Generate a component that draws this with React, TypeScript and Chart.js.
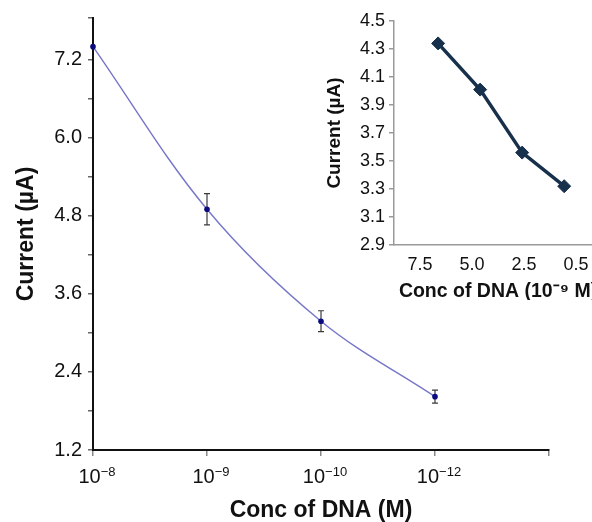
import React, { useEffect, useRef } from 'react';
import { Chart, registerables } from 'chart.js';

Chart.register(...registerables);

// ---- Main chart data ----
const mainXPositions = [0, 1, 2, 3];
const mainXExponents = ['−8', '−9', '−10', '−12'];
const mainCurrent = [7.4, 4.9, 3.18, 2.02];
const mainError = [0, 0.24, 0.16, 0.1];
const mainYMin = 1.2;
const mainYMax = 7.84;
const mainYStep = 0.6;

// ---- Inset chart data ----
const insetLabels = ['7.5', '5.0', '2.5', '0.5'];
const insetIndex = [0, 1, 2, 3];
const insetCurrent = [4.34, 4.01, 3.56, 3.32];
const insetYMin = 2.9;
const insetYMax = 4.5;
const insetYStep = 0.2;

const FONT = '"Liberation Sans", Arial, Helvetica, sans-serif';

const errorBarPlugin = {
  id: 'errorBars',
  beforeDatasetsDraw(chart: any) {
    const { ctx, scales } = chart;
    const x = scales.x;
    const y = scales.y;
    ctx.save();
    ctx.strokeStyle = '#3a3a3a';
    ctx.lineWidth = 1.2;
    mainXPositions.forEach((xv, i) => {
      const e = mainError[i];
      if (!e) return;
      const px = x.getPixelForValue(xv);
      const top = y.getPixelForValue(mainCurrent[i] + e);
      const bot = y.getPixelForValue(mainCurrent[i] - e);
      ctx.beginPath();
      ctx.moveTo(px, top);
      ctx.lineTo(px, bot);
      ctx.moveTo(px - 3, top);
      ctx.lineTo(px + 3, top);
      ctx.moveTo(px - 3, bot);
      ctx.lineTo(px + 3, bot);
      ctx.stroke();
    });
    ctx.restore();
  },
};

const xLabelPlugin = {
  id: 'xPowerLabels',
  afterDraw(chart: any) {
    const { ctx, scales } = chart;
    const x = scales.x;
    const base = `20px ${FONT}`;
    const sup = `13px ${FONT}`;
    ctx.save();
    ctx.fillStyle = '#111';
    ctx.textBaseline = 'alphabetic';
    ctx.textAlign = 'left';
    mainXExponents.forEach((exp, i) => {
      const px = x.getPixelForValue(mainXPositions[i]);
      ctx.font = base;
      const wb = ctx.measureText('10').width;
      ctx.font = sup;
      const ws = ctx.measureText(exp).width;
      const start = px + 4 - (wb + ws) / 2;
      ctx.font = base;
      ctx.fillText('10', start, x.top + 33);
      ctx.font = sup;
      ctx.fillText(exp, start + wb, x.top + 26);
    });
    ctx.restore();
  },
};

export default function App() {
  const mainRef = useRef<HTMLCanvasElement>(null);
  const insetRef = useRef<HTMLCanvasElement>(null);

  useEffect(() => {
    const main = new Chart(mainRef.current as HTMLCanvasElement, {
      type: 'line',
      data: {
        datasets: [
          {
            data: mainXPositions.map((x, i) => ({ x, y: mainCurrent[i] })),
            borderColor: '#7676c8',
            borderWidth: 1.4,
            tension: 0.35,
            pointRadius: 2.8,
            pointBackgroundColor: '#0b0b80',
            pointBorderColor: '#0b0b80',
            pointBorderWidth: 0,
            fill: false,
            clip: false as any,
          },
        ],
      },
      options: {
        responsive: false,
        animation: false,
        devicePixelRatio: 1,
        layout: { padding: { left: 0, top: 14, right: 43, bottom: 0 } },
        plugins: { legend: { display: false }, tooltip: { enabled: false } },
        scales: {
          x: {
            type: 'linear',
            min: 0,
            max: 4,
            afterFit: (s: any) => {
              s.height = 72;
            },
            ticks: { stepSize: 1, display: false },
            grid: {
              drawOnChartArea: false,
              drawTicks: true,
              tickLength: 6,
              color: '#888',
              lineWidth: 1.5,
            },
            border: { color: '#111', width: 2 },
            title: {
              display: true,
              text: 'Conc of DNA (M)',
              color: '#111',
              font: { family: FONT, size: 23, weight: 'bold', lineHeight: 1 },
              padding: { top: 0, bottom: 0 },
            },
          },
          y: {
            min: mainYMin,
            max: mainYMax,
            afterFit: (s: any) => {
              s.width = 93;
            },
            ticks: {
              stepSize: mainYStep,
              color: '#111',
              padding: 6,
              font: { family: FONT, size: 20 },
              callback: (v: any) =>
                Math.round(Number(v) / mainYStep) % 2 === 0 && Number(v) < 7.81
                  ? Number(v).toFixed(1)
                  : '',
            },
            grid: {
              drawOnChartArea: false,
              drawTicks: true,
              tickLength: 5,
              color: '#666',
              lineWidth: 1.5,
            },
            border: { color: '#111', width: 2 },
            title: {
              display: true,
              text: 'Current (µA)',
              color: '#111',
              font: { family: FONT, size: 23, weight: 'bold' },
              padding: { top: 13, bottom: 0 },
            },
          },
        },
      } as any,
      plugins: [errorBarPlugin, xLabelPlugin],
    });

    const inset = new Chart(insetRef.current as HTMLCanvasElement, {
      type: 'line',
      data: {
        labels: insetLabels,
        datasets: [
          {
            data: insetIndex.map((x, i) => ({ x, y: insetCurrent[i] })),
            xAxisID: 'xl',
            yAxisID: 'y',
            borderColor: '#17304c',
            backgroundColor: '#17304c',
            borderWidth: 3.5,
            tension: 0,
            pointStyle: 'rectRot',
            pointRadius: 6.5,
            pointBackgroundColor: '#17304c',
            pointBorderColor: '#17304c',
            pointBorderWidth: 1,
            fill: false,
          },
        ],
      },
      options: {
        responsive: false,
        animation: false,
        devicePixelRatio: 1,
        layout: { padding: { left: 0, top: 21, right: 8, bottom: 0 } },
        plugins: { legend: { display: false }, tooltip: { enabled: false } },
        scales: {
          x: {
            type: 'category',
            offset: true,
            afterFit: (s: any) => {
              s.height = 55;
            },
            grid: { display: false },
            border: { color: '#9a9a9a', width: 1.5 },
            ticks: { color: '#111', padding: 1, font: { family: FONT, size: 18 } },
            title: {
              display: true,
              text: 'Conc of DNA (10⁻⁹ M)',
              color: '#111',
              font: { family: FONT, size: 19.5, weight: 'bold', lineHeight: 1 },
              padding: { top: 0, bottom: -1 },
            },
          },
          xl: {
            type: 'linear',
            display: false,
            min: -1.05,
            max: 3.9,
          },
          y: {
            min: insetYMin,
            max: insetYMax,
            afterFit: (s: any) => {
              s.width = 94;
            },
            ticks: {
              stepSize: insetYStep,
              color: '#111',
              padding: 4,
              font: { family: FONT, size: 18 },
              callback: (v: any) => Number(v).toFixed(1),
            },
            grid: {
              drawOnChartArea: false,
              drawTicks: true,
              tickLength: 5,
              color: '#9a9a9a',
              lineWidth: 1.5,
            },
            border: { color: '#9a9a9a', width: 1.5 },
            title: {
              display: true,
              text: 'Current (µA)',
              color: '#111',
              font: { family: FONT, size: 19, weight: 'bold' },
              padding: { top: 23, bottom: 0 },
            },
          },
        },
      } as any,
    });

    return () => {
      main.destroy();
      inset.destroy();
    };
  }, []);

  return (
    <div
      style={{
        position: 'absolute',
        left: 0,
        top: 0,
        width: 592,
        height: 522,
        overflow: 'hidden',
        background: '#fff',
      }}
    >
      <canvas
        ref={mainRef}
        width={592}
        height={522}
        style={{ position: 'absolute', left: 0, top: 0, width: 592, height: 522 }}
      />
      <canvas
        ref={insetRef}
        width={310}
        height={300}
        style={{ position: 'absolute', left: 300, top: 0, width: 310, height: 300 }}
      />
    </div>
  );
}
